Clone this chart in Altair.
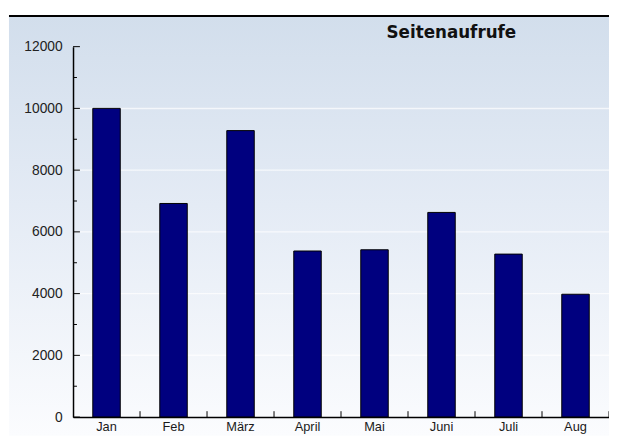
import altair as alt
import pandas as pd

months = ["Jan", "Feb", "März", "April", "Mai", "Juni", "Juli", "Aug"]
views = [10000, 6920, 9280, 5380, 5420, 6630, 5280, 3980]
major_ticks = [0, 2000, 4000, 6000, 8000, 10000, 12000]
minor_ticks = [1000, 3000, 5000, 7000, 9000, 11000]
grid_values = [2000, 4000, 6000, 8000, 10000]
title_text = "Seitenaufrufe"

W, H = 544, 376
PL, PT, PR, PB = 66, 36, 0, 19

df = pd.DataFrame({"Monat": months, "Aufrufe": views})
ymaj = pd.DataFrame({"v": major_ticks})
ymin = pd.DataFrame({"v": minor_ticks})
ygrid = pd.DataFrame({"v": grid_values})
one = pd.DataFrame({"a": [0]})

yscale = alt.Scale(domain=[0, 12000], nice=False, zero=True)
xscale = alt.Scale(paddingInner=0, paddingOuter=0)

grad = alt.Gradient(
    gradient="linear",
    stops=[
        alt.GradientStop(color="#d2deec", offset=0),
        alt.GradientStop(color="#e4ebf5", offset=0.45),
        alt.GradientStop(color="#fbfcfe", offset=1),
    ],
    x1=0, x2=0, y1=0, y2=1,
)

bg = alt.Chart(one).mark_rect(color=grad).encode(
    x=alt.value(-PL + 1), x2=alt.value(W + PR), y=alt.value(-PT + 5), y2=alt.value(H + PB)
)
topline = alt.Chart(one).mark_rule(color="black", strokeWidth=2).encode(
    x=alt.value(-PL + 1), x2=alt.value(W + PR), y=alt.value(-PT + 5)
)
grid = alt.Chart(ygrid).mark_rule(color="#ffffff", opacity=0.7, strokeWidth=1.5).encode(
    x=alt.value(0), x2=alt.value(W), y=alt.Y("v:Q", scale=yscale)
)
title = alt.Chart(one).mark_text(
    text=title_text, align="center", baseline="alphabetic", font="DejaVu Sans",
    fontSize=17, fontWeight="bold", color="#111111"
).encode(x=alt.value(384), y=alt.value(-9))

bars = alt.Chart(df).mark_bar(
    color="#00007f", stroke="#000000", strokeWidth=1, width=alt.RelativeBandSize(0.41)
).encode(
    x=alt.X("Monat:N", sort=months, scale=xscale, title=None,
            axis=alt.Axis(labelAngle=0, ticks=False, domainColor="black", domainWidth=1.5,
                          labelPadding=4, labelFontSize=13, labelColor="#1a1a1a",
                          labelFont="Liberation Sans", zindex=1)),
    y=alt.Y("Aufrufe:Q", scale=yscale, title=None,
            axis=alt.Axis(values=major_ticks, format="d", ticks=False, domainColor="black",
                          domainWidth=1.5, labelPadding=11, labelFontSize=14,
                          labelColor="#222222", labelFont="Liberation Sans", grid=False,
                          zindex=1)),
)

ytick_major = alt.Chart(ymaj).mark_rule(color="black", strokeWidth=1).encode(
    x=alt.value(0), x2=alt.value(7), y=alt.Y("v:Q", scale=yscale)
)
ytick_minor = alt.Chart(ymin).mark_rule(color="black", strokeWidth=1).encode(
    x=alt.value(0), x2=alt.value(4), y=alt.Y("v:Q", scale=yscale)
)
xtick = alt.Chart(df).mark_rule(color="black", strokeWidth=1).encode(
    x=alt.X("Monat:N", sort=months, scale=xscale, bandPosition=1),
    y=alt.value(H), y2=alt.value(H - 6),
)

chart = alt.layer(bg, topline, grid, title, bars, ytick_major, ytick_minor, xtick).properties(
    width=W, height=H,
    autosize=alt.AutoSizeParams(type="none"),
    padding={"left": PL, "top": PT, "right": PR, "bottom": PB},
).configure_view(stroke=None).configure(background="white")

chart.save("out.html", embed_options={"renderer": "svg", "actions": False})
